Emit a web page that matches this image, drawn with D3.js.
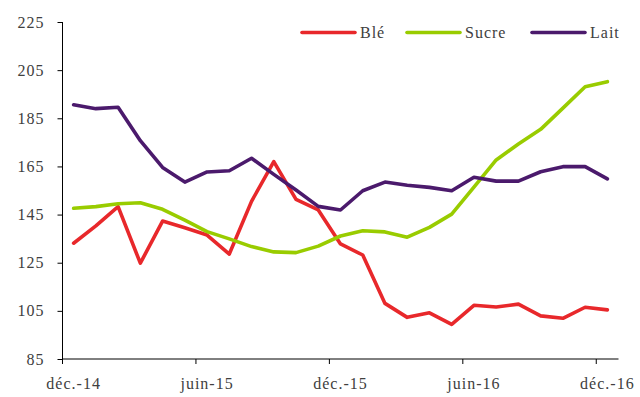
<!DOCTYPE html>
<html>
<head>
<meta charset="utf-8">
<script src="https://cdn.jsdelivr.net/npm/d3@7"></script>
<style>
  html, body { margin: 0; padding: 0; background: #fff; }
  svg { display: block; }
</style>
</head>
<body>
<svg id="chart" width="640" height="397"></svg>
<script>
// Monthly index values, December 2014 to December 2016
const months = [
  "déc.-14", "janv.-15", "févr.-15", "mars-15", "avr.-15", "mai-15", "juin-15",
  "juil.-15", "août-15", "sept.-15", "oct.-15", "nov.-15", "déc.-15",
  "janv.-16", "févr.-16", "mars-16", "avr.-16", "mai-16", "juin-16",
  "juil.-16", "août-16", "sept.-16", "oct.-16", "nov.-16", "déc.-16"
];
const ble = [133.1, 140.3, 148.3, 124.8, 142.3, 139.5, 136.5, 128.6, 150.5, 167.0, 151.3, 146.9, 132.8,
             128.2, 108.1, 102.3, 104.2, 99.4, 107.3, 106.6, 107.8, 102.9, 101.9, 106.5, 105.4];
const sucre = [147.6, 148.3, 149.5, 149.9, 147.2, 142.7, 137.9, 134.9, 131.7, 129.5, 129.2, 131.9, 136.1,
               138.3, 137.8, 135.6, 139.7, 145.2, 156.4, 167.7, 174.3, 180.4, 189.2, 198.1, 200.2];
const lait = [190.6, 189.0, 189.6, 175.7, 164.6, 158.5, 162.7, 163.2, 168.4, 161.7, 155.2, 148.4, 146.9,
              154.9, 158.5, 157.2, 156.3, 154.9, 160.5, 158.9, 158.9, 162.8, 164.9, 164.9, 159.8];
const yTicks = [85, 105, 125, 145, 165, 185, 205, 225];
const xTickLabels = ["déc.-14", "juin-15", "déc.-15", "juin-16", "déc.-16"];

const series = [
  { name: "Blé", values: ble, color: "#e8282b" },
  { name: "Sucre", values: sucre, color: "#99cc00" },
  { name: "Lait", values: lait, color: "#4b1a6c" }
];

const FONT = "'Liberation Serif', 'DejaVu Serif', serif";
const styleText = sel => sel
  .style("font-family", FONT)
  .style("font-size", "16px")
  .style("letter-spacing", "1px")
  .style("fill", "#404040");

const svg = d3.select("#chart");
const plotLeft = 62.5, plotRight = 618.5, plotTop = 22, plotBottom = 359;

const x = d3.scaleBand().domain(months).range([plotLeft, plotRight]);
const y = d3.scaleLinear().domain([85, 225]).range([plotBottom, plotTop]);
const cx = m => x(m) + x.bandwidth() / 2;

// Y axis
const yAxis = svg.append("g")
  .attr("transform", `translate(${plotLeft},0)`)
  .call(d3.axisLeft(y).tickValues(yTicks).tickSize(5).tickPadding(13).tickFormat(d3.format("d")));
yAxis.attr("font-family", null).attr("font-size", null);
yAxis.select(".domain").attr("stroke", "#000").attr("d", `M0,${plotTop}V${plotBottom}`);
yAxis.selectAll(".tick line").attr("stroke", "#000");
yAxis.selectAll(".tick text").call(styleText);

// X axis: ticks sit on category boundaries, labels centred on the month
const xAxis = svg.append("g")
  .attr("transform", `translate(0,${plotBottom})`)
  .call(d3.axisBottom(x).tickValues(xTickLabels).tickSize(5).tickPadding(14));
xAxis.attr("font-family", null).attr("font-size", null);
xAxis.select(".domain").attr("stroke", "#000").attr("d", `M${plotLeft},0H${plotRight}`);
xAxis.selectAll(".tick line")
  .attr("stroke", "#000")
  .attr("transform", `translate(${-x.bandwidth() / 2},0)`);
xAxis.selectAll(".tick text").call(styleText);

// Lines
const line = d3.line()
  .x((d, i) => cx(months[i]))
  .y(d => y(d));

svg.append("g").selectAll("path")
  .data(series)
  .join("path")
  .attr("d", s => line(s.values))
  .attr("fill", "none")
  .attr("stroke", s => s.color)
  .attr("stroke-width", 3.6)
  .attr("stroke-linejoin", "round")
  .attr("stroke-linecap", "round");

// Legend
const legendPos = [302, 407, 532];
const legend = svg.append("g").selectAll("g")
  .data(series)
  .join("g")
  .attr("transform", (s, i) => `translate(${legendPos[i]},32.5)`);
legend.append("line")
  .attr("x1", 0).attr("x2", 53)
  .attr("stroke", s => s.color)
  .attr("stroke-width", 3.6)
  .attr("stroke-linecap", "round");
legend.append("text")
  .attr("x", 58).attr("y", 5.5)
  .text(s => s.name)
  .call(styleText);
</script>
</body>
</html>
